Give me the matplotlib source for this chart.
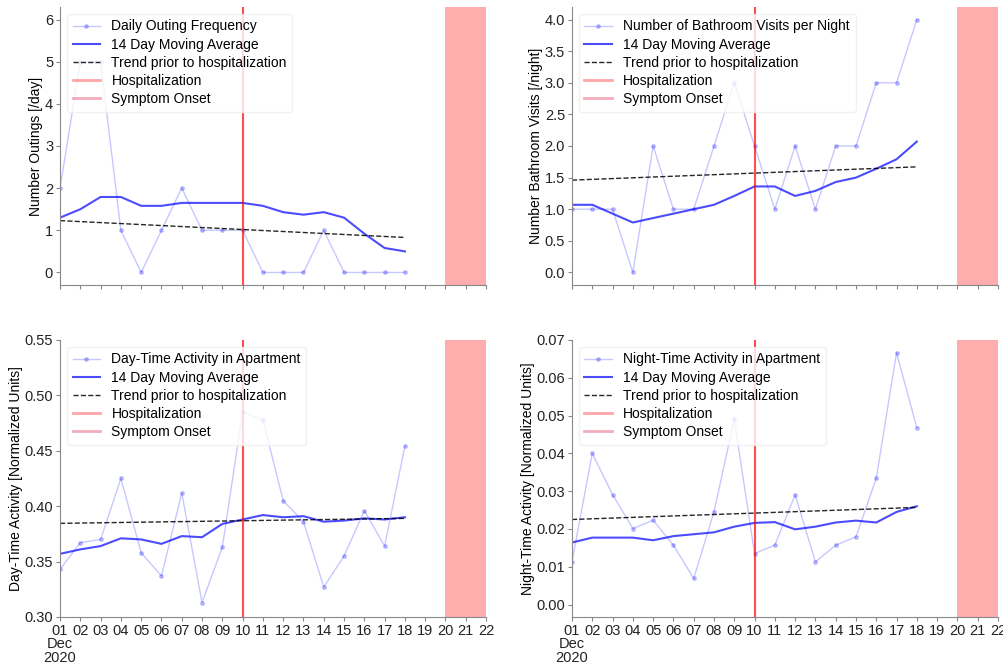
import datetime as dt

import matplotlib
matplotlib.use("Agg")
import matplotlib.dates as mdates
import matplotlib.pyplot as plt
from matplotlib.lines import Line2D
from matplotlib.ticker import FuncFormatter

plt.rcParams["font.family"] = ["Liberation Sans", "DejaVu Sans"]
plt.rcParams["font.size"] = 10

# 日期: 12 月 1 日到 18 日
days = [dt.date(2020, 12, d) for d in range(1, 19)]
x_start = dt.date(2020, 12, 1)
x_end = dt.date(2020, 12, 22)
onset_day = dt.date(2020, 12, 10)
hosp_start = dt.date(2020, 12, 20)
hosp_end = dt.date(2020, 12, 22)

# 每日外出次数
outings = [2, 5, 5, 1, 0, 1, 2, 1, 1, 1, 0, 0, 0, 1, 0, 0, 0, 0]
outings_ma = [1.30, 1.50, 1.79, 1.79, 1.58, 1.58, 1.65, 1.65, 1.65, 1.65,
              1.58, 1.43, 1.37, 1.43, 1.30, 0.92, 0.58, 0.50]
outings_trend = [1.23, 0.83]

# 每晚上厕所次数
bathroom = [1, 1, 1, 0, 2, 1, 1, 2, 3, 2, 1, 2, 1, 2, 2, 3, 3, 4]
bathroom_ma = [1.07, 1.07, 0.93, 0.79, 0.86, 0.93, 1.00, 1.07, 1.21, 1.36,
               1.36, 1.21, 1.29, 1.43, 1.50, 1.64, 1.79, 2.07]
bathroom_trend = [1.46, 1.67]

# 白天活动
day_act = [0.343, 0.367, 0.370, 0.425, 0.358, 0.337, 0.412, 0.313, 0.363, 0.485,
           0.478, 0.405, 0.386, 0.327, 0.355, 0.396, 0.364, 0.454]
day_act_ma = [0.357, 0.361, 0.364, 0.371, 0.370, 0.366, 0.373, 0.372, 0.384, 0.388,
              0.392, 0.390, 0.391, 0.386, 0.387, 0.389, 0.388, 0.390]
day_act_trend = [0.3845, 0.389]

# 夜间活动
night_act = [0.0113, 0.0400, 0.0291, 0.0201, 0.0223, 0.0157, 0.0069, 0.0245, 0.0490,
             0.0135, 0.0157, 0.0290, 0.0113, 0.0157, 0.0179, 0.0334, 0.0666, 0.0468]
night_act_ma = [0.0164, 0.0177, 0.0177, 0.0177, 0.0170, 0.0181, 0.0186, 0.0191, 0.0206,
                0.0216, 0.0218, 0.0199, 0.0206, 0.0217, 0.0222, 0.0217, 0.0245, 0.0260]
night_act_trend = [0.0225, 0.0257]

panels = [
    ("Daily Outing Frequency", "Number Outings [/day]", outings, outings_ma,
     outings_trend, (-0.3, 6.3), [0, 1, 2, 3, 4, 5, 6], "{:.0f}"),
    ("Number of Bathroom Visits per Night", "Number Bathroom Visits [/night]",
     bathroom, bathroom_ma, bathroom_trend, (-0.2, 4.2),
     [0, 0.5, 1, 1.5, 2, 2.5, 3, 3.5, 4], "{:.1f}"),
    ("Day-Time Activity in Apartment", "Day-Time Activity [Normalized Units]",
     day_act, day_act_ma, day_act_trend, (0.30, 0.55),
     [0.30, 0.35, 0.40, 0.45, 0.50, 0.55], "{:.2f}"),
    ("Night-Time Activity in Apartment", "Night-Time Activity [Normalized Units]",
     night_act, night_act_ma, night_act_trend, (-0.0033, 0.07),
     [0, 0.01, 0.02, 0.03, 0.04, 0.05, 0.06, 0.07], "{:.2f}"),
]

# 各子图位置 [left, bottom, width, height]
positions = [
    [0.0598, 0.570, 0.4243, 0.4196],
    [0.5697, 0.570, 0.4243, 0.4196],
    [0.0598, 0.0694, 0.4243, 0.4178],
    [0.5697, 0.0694, 0.4243, 0.4178],
]

fig = plt.figure(figsize=(10.04, 6.63), dpi=100)


def day_label(v, pos):
    d = mdates.num2date(v)
    if d.day == 1:
        return "01\nDec\n2020"
    return d.strftime("%d")


axes = []
for i, (name, ylabel, raw, ma, trend, ylim, yticks, fmt) in enumerate(panels):
    ax = fig.add_axes(positions[i])
    axes.append(ax)

    ax.plot(days, raw, color="blue", alpha=0.22, lw=1, marker=".", markersize=5)
    ax.plot(days, ma, color="blue", alpha=0.7, lw=1.5)
    ax.plot([days[0], days[-1]], trend, "k--", lw=1, alpha=0.85)
    ax.axvline(onset_day, color="red", alpha=0.7, lw=1.5)
    ax.axvspan(hosp_start, hosp_end, color="red", alpha=0.32, lw=0)

    ax.set_xlim(x_start, x_end)
    ax.set_ylim(*ylim)
    ax.set_yticks(yticks)
    ax.set_yticklabels([fmt.format(t) for t in yticks])
    ax.set_ylabel(ylabel, labelpad=1)

    ax.xaxis.set_major_locator(mdates.DayLocator())
    if i < 2:
        ax.xaxis.set_major_formatter(FuncFormatter(lambda v, p: ""))
    else:
        ax.xaxis.set_major_formatter(FuncFormatter(day_label))

    for side in ("top", "right"):
        ax.spines[side].set_visible(False)
    for side in ("left", "bottom"):
        ax.spines[side].set_color("#888888")
    ax.tick_params(colors="#888888", labelcolor="#222222", length=3, pad=2,
                   labelsize=10.5)

    handles = [
        Line2D([], [], color="blue", alpha=0.22, lw=1, marker=".", markersize=5),
        Line2D([], [], color="blue", alpha=0.7, lw=1.5),
        Line2D([], [], color="k", ls="--", lw=1, alpha=0.85),
        Line2D([], [], color="red", alpha=0.35, lw=2),
        Line2D([], [], color="crimson", alpha=0.35, lw=2),
    ]
    labels = [name, "14 Day Moving Average", "Trend prior to hospitalization",
              "Hospitalization", "Symptom Onset"]
    leg = ax.legend(handles, labels, loc="upper left", fontsize=10,
                    labelspacing=0.3, framealpha=0.8)
    leg.get_frame().set_edgecolor("#eeeeee")

# 收紧日期标签行距
fig.canvas.draw()
for ax in axes[2:]:
    for t in ax.xaxis.get_major_ticks():
        t.label1.set_linespacing(0.95)

fig.savefig("out.png", dpi=100)
